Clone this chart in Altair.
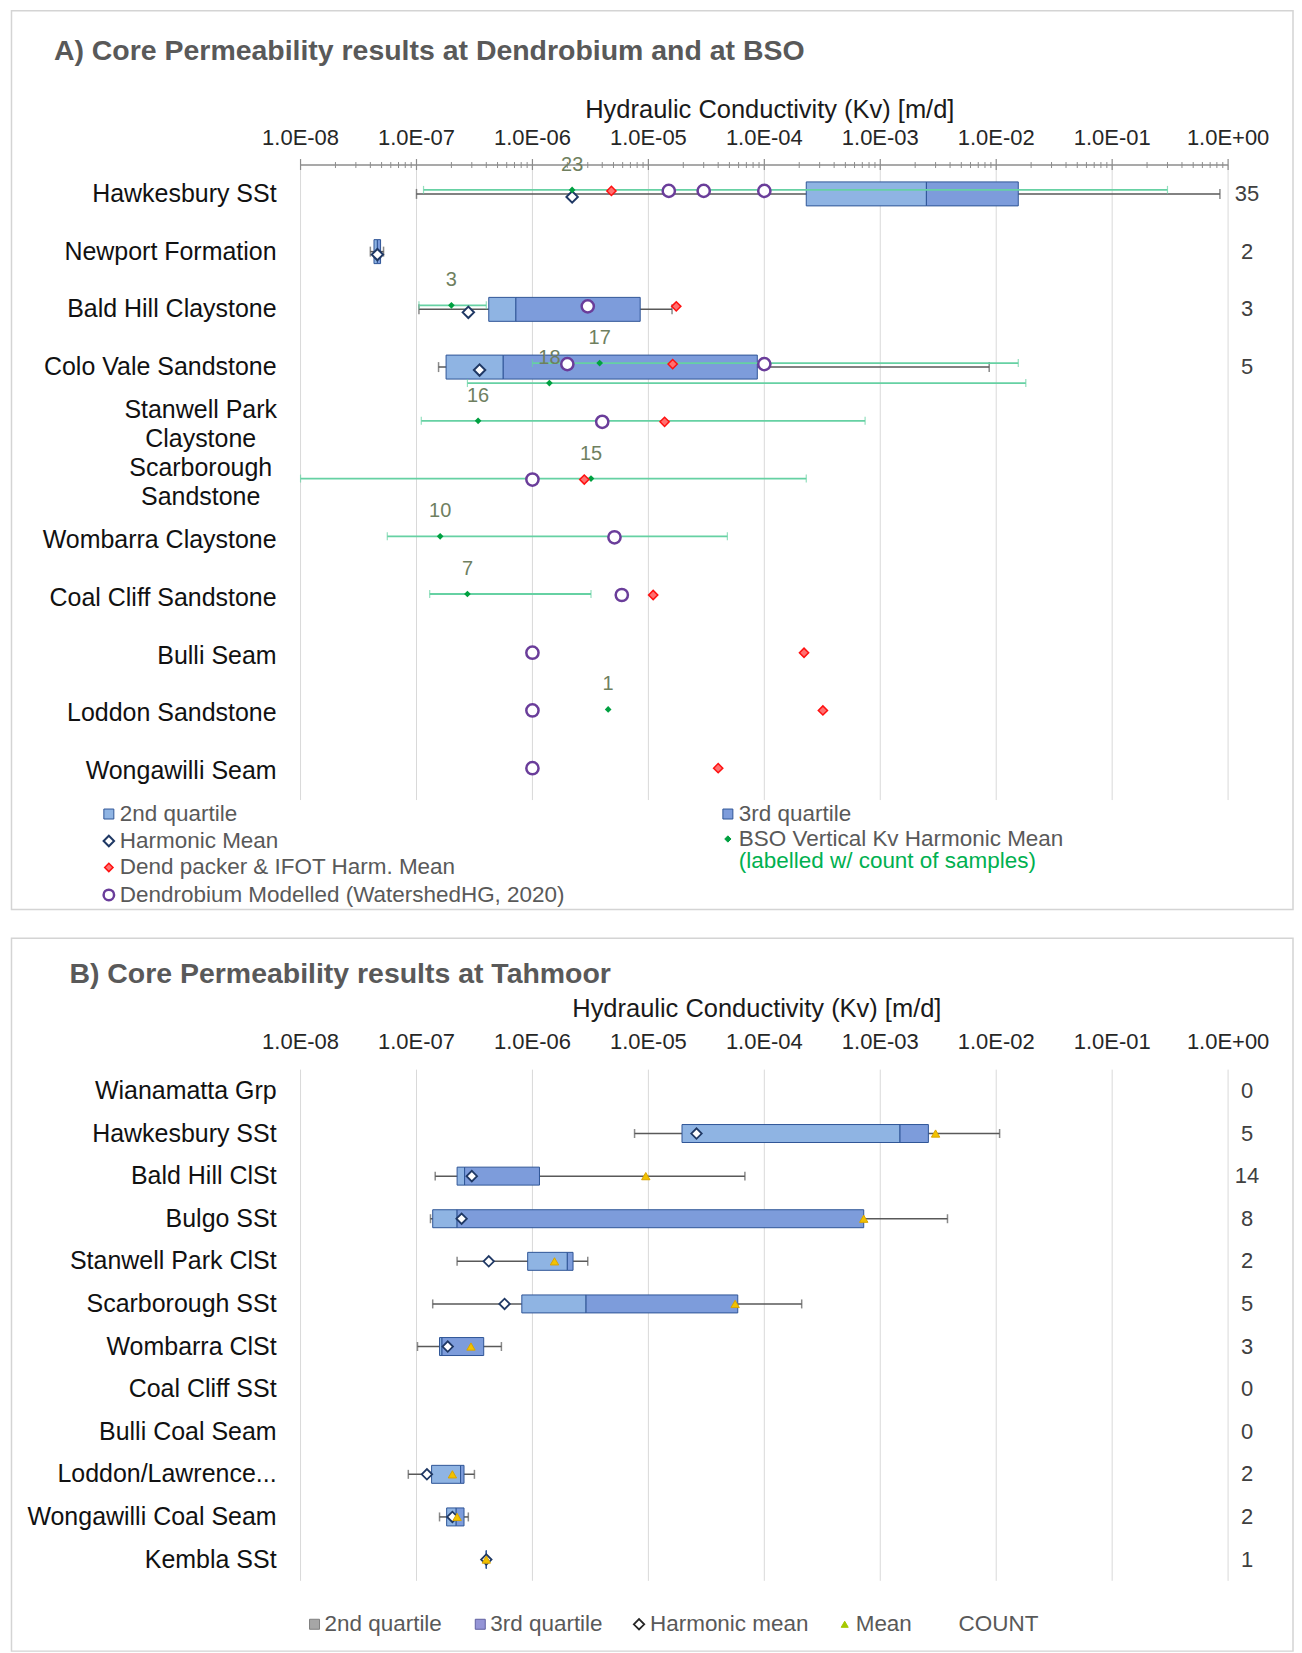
import altair as alt
import pandas as pd

FONT = "Liberation Sans"

# ---------------- shared axis values ----------------
decades = [1e-8, 1e-7, 1e-6, 1e-5, 1e-4, 1e-3, 1e-2, 1e-1, 1.0]
minor_ticks = [m * d for d in decades[:-1] for m in range(2, 10)]
axis_title = "Hydraulic Conductivity (Kv) [m/d]"

# ---------------- Panel A data ----------------
title_a = "A) Core Permeability results at Dendrobium and at BSO"
rows_a = ["Hawkesbury SSt", "Newport Formation", "Bald Hill Claystone",
          "Colo Vale Sandstone", "Stanwell Park|Claystone", "Scarborough|Sandstone",
          "Wombarra Claystone", "Coal Cliff Sandstone", "Bulli Seam",
          "Loddon Sandstone", "Wongawilli Seam"]

box_a_rows = ["Hawkesbury SSt", "Newport Formation", "Bald Hill Claystone", "Colo Vale Sandstone"]
box_a_min = [1.0e-7, 4.0e-8, 1.05e-7, 1.55e-7]
box_a_q1 = [2.3e-4, 4.3e-8, 4.2e-7, 1.8e-7]
box_a_med = [2.5e-3, 4.6e-8, 7.2e-7, 5.6e-7]
box_a_q3 = [1.55e-2, 4.9e-8, 8.5e-6, 8.7e-5]
box_a_max = [0.85, 5.2e-8, 1.6e-5, 8.7e-3]
harm_a = [2.2e-6, 4.6e-8, 2.8e-7, 3.5e-7]
count_a = [35, 2, 3, 5]

bso_rows = ["Hawkesbury SSt", "Bald Hill Claystone", "Colo Vale Sandstone",
            "Stanwell Park|Claystone", "Scarborough|Sandstone", "Wombarra Claystone",
            "Coal Cliff Sandstone", "Loddon Sandstone"]
bso_hm = [2.2e-6, 2.0e-7, 3.8e-6, 3.4e-7, 3.2e-6, 1.6e-7, 2.75e-7, 4.5e-6]
bso_lo = [1.15e-7, 1.05e-7, 1.0e-6, 1.1e-7, 1.0e-8, 5.6e-8, 1.3e-7, 4.5e-6]
bso_hi = [0.30, 4.0e-7, 1.55e-2, 7.4e-4, 2.3e-4, 4.8e-5, 3.2e-6, 4.5e-6]
bso_n = [23, 3, 17, 16, 15, 10, 7, 1]

bso2_rows = ["Colo Vale Sandstone"]
bso2_hm = [1.4e-6]
bso2_lo = [2.75e-7]
bso2_hi = [1.8e-2]
bso2_n = [18]

dend_rows = ["Hawkesbury SSt", "Bald Hill Claystone", "Colo Vale Sandstone",
             "Stanwell Park|Claystone", "Scarborough|Sandstone", "Wombarra Claystone",
             "Coal Cliff Sandstone", "Bulli Seam", "Loddon Sandstone", "Wongawilli Seam"]
dend_hm = [4.8e-6, 1.74e-5, 1.62e-5, 1.38e-5, 2.8e-6, 5.2e-6, 1.1e-5, 2.2e-4, 3.2e-4, 4.0e-5]

mod_rows = ["Hawkesbury SSt", "Hawkesbury SSt", "Hawkesbury SSt", "Bald Hill Claystone",
            "Colo Vale Sandstone", "Colo Vale Sandstone", "Stanwell Park|Claystone",
            "Scarborough|Sandstone", "Wombarra Claystone", "Coal Cliff Sandstone",
            "Bulli Seam", "Loddon Sandstone", "Wongawilli Seam"]
mod_kv = [1.5e-5, 3.0e-5, 1.0e-4, 3.0e-6, 1.0e-4, 2.0e-6, 4.0e-6, 1.0e-6, 5.1e-6,
          5.9e-6, 1.0e-6, 1.0e-6, 1.0e-6]

legend_a_col1 = ["2nd quartile", "Harmonic Mean", "Dend packer & IFOT Harm. Mean",
                 "Dendrobium Modelled (WatershedHG, 2020)"]
legend_a_col2 = ["3rd quartile", "BSO Vertical Kv Harmonic Mean"]
legend_a_note = "(labelled w/ count of samples)"

# ---------------- Panel B data ----------------
title_b = "B) Core Permeability results at Tahmoor"
rows_b = ["Wianamatta Grp", "Hawkesbury SSt", "Bald Hill ClSt", "Bulgo SSt",
          "Stanwell Park ClSt", "Scarborough SSt", "Wombarra ClSt", "Coal Cliff SSt",
          "Bulli Coal Seam", "Loddon/Lawrence...", "Wongawilli Coal Seam", "Kembla SSt"]
count_b = [0, 5, 14, 8, 2, 5, 3, 0, 0, 2, 2, 1]

box_b_rows = ["Hawkesbury SSt", "Bald Hill ClSt", "Bulgo SSt", "Stanwell Park ClSt",
              "Scarborough SSt", "Wombarra ClSt", "Loddon/Lawrence...",
              "Wongawilli Coal Seam", "Kembla SSt"]
box_b_min = [7.6e-6, 1.45e-7, 1.32e-7, 2.24e-7, 1.38e-7, 1.02e-7, 8.5e-8, 1.58e-7, 4.0e-7]
box_b_q1 = [1.95e-5, 2.24e-7, 1.38e-7, 9.1e-7, 8.1e-7, 1.58e-7, 1.35e-7, 1.82e-7, 4.0e-7]
box_b_med = [1.48e-3, 2.6e-7, 2.24e-7, 2.0e-6, 2.9e-6, 1.66e-7, 2.4e-7, 2.2e-7, 4.0e-7]
box_b_q3 = [2.6e-3, 1.15e-6, 7.2e-4, 2.24e-6, 5.9e-5, 3.8e-7, 2.57e-7, 2.57e-7, 4.0e-7]
box_b_max = [1.07e-2, 6.8e-5, 3.8e-3, 3.0e-6, 2.1e-4, 5.4e-7, 3.16e-7, 2.8e-7, 4.0e-7]
harm_b = [2.6e-5, 3.0e-7, 2.45e-7, 4.2e-7, 5.75e-7, 1.86e-7, 1.23e-7, 2.04e-7, 4.0e-7]
mean_b = [3.0e-3, 9.5e-6, 7.2e-4, 1.55e-6, 5.6e-5, 2.95e-7, 2.04e-7, 2.24e-7, 4.0e-7]

legend_b = ["2nd quartile", "3rd quartile", "Harmonic mean", "Mean", "COUNT"]

# ---------------- styles ----------------
W = 929
HA = 636
HB = 512
C_Q2 = "#8fb4e3"
C_Q3 = "#7d9cdb"
C_BOX = "#2f5597"
C_WH = "#595959"
C_GRID = "#d9d9d9"
C_AX = "#8c8c8c"
C_BSO_LINE = "#66d1a3"
C_BSO = "#00a040"
C_TXT = "#595959"
LEG = 22.5

xs = alt.Scale(type="log", domain=[1e-8, 1.0], nice=False)
ONE = pd.DataFrame({"a": [0]})
dec_df = pd.DataFrame({"v": decades, "lab": [f"{v:.1E}" for v in decades]})
minor_df = pd.DataFrame({"v": minor_ticks})


def X(f):
    return alt.X(f"{f}:Q", scale=xs, axis=None)


def txt(x, y, text, size, color, weight="normal", align="left"):
    return alt.Chart(pd.DataFrame({"t": [text]})).mark_text(
        align=align, baseline="middle", fontSize=size, color=color, font=FONT,
        fontWeight=weight).encode(x=alt.value(x), y=alt.value(y), text="t:N")


def sym(x, y, shape, size, fill, stroke, sw):
    return alt.Chart(ONE).mark_point(
        shape=shape, size=size, filled=True, fill=fill, stroke=stroke,
        strokeWidth=sw, opacity=1).encode(x=alt.value(x), y=alt.value(y))


def frame(x1, x2, y1, y2):
    return alt.Chart(ONE).mark_rect(fillOpacity=0, stroke="#d4d4d4", strokeWidth=1.5).encode(
        x=alt.value(x1), x2=alt.value(x2), y=alt.value(y1), y2=alt.value(y2))


def grid(h):
    return alt.Chart(dec_df).mark_rule(color=C_GRID, strokeWidth=1).encode(
        x=X("v"), y=alt.value(0), y2=alt.value(h))


def tick_labels(y):
    return alt.Chart(dec_df).mark_text(fontSize=22, color="#262626", font=FONT,
                                       baseline="middle", align="center").encode(
        x=X("v"), y=alt.value(y), text="lab:N")


def row_labels(rows, Y):
    df = pd.DataFrame({"row": rows})
    single = df[~df["row"].str.contains("|", regex=False)]
    multi = df[df["row"].str.contains("|", regex=False)]
    out = [alt.Chart(single).mark_text(
        fontSize=25, color="#111111", font=FONT, align="right", baseline="middle").encode(
        x=alt.value(-24), y=Y(), text="row:N")]
    if len(multi):
        out.append(alt.Chart(multi).mark_text(
            fontSize=25, color="#111111", font=FONT, align="center", baseline="middle",
            lineBreak="|", lineHeight=29, yOffset=-15).encode(
            x=alt.value(-100), y=Y(), text="row:N"))
    return out


def box_layers(df, Y, bar_size, cap):
    whisk = alt.Chart(df).mark_rule(color=C_WH, strokeWidth=1.5).encode(
        x=X("min"), x2="max", y=Y())
    cap1 = alt.Chart(df).mark_tick(color=C_WH, size=cap, thickness=1.5).encode(x=X("min"), y=Y())
    cap2 = alt.Chart(df).mark_tick(color=C_WH, size=cap, thickness=1.5).encode(x=X("max"), y=Y())
    b2 = alt.Chart(df).mark_bar(size=bar_size, color=C_Q2, stroke=C_BOX, strokeWidth=1).encode(
        x=X("q1"), x2="med", y=Y())
    b3 = alt.Chart(df).mark_bar(size=bar_size, color=C_Q3, stroke=C_BOX, strokeWidth=1).encode(
        x=X("med"), x2="q3", y=Y())
    return [whisk, cap1, cap2, b2, b3]


# ================= Panel A =================
ys_a = alt.Scale(domain=rows_a, paddingInner=0, paddingOuter=0)


def YA():
    return alt.Y("row:N", scale=ys_a, axis=None)


box_a = pd.DataFrame({"row": box_a_rows, "min": box_a_min, "q1": box_a_q1, "med": box_a_med,
                      "q3": box_a_q3, "max": box_a_max, "harm": harm_a, "n": count_a})
bso = pd.DataFrame({"row": bso_rows, "hm": bso_hm, "lo": bso_lo, "hi": bso_hi, "n": bso_n})
bso2 = pd.DataFrame({"row": bso2_rows, "hm": bso2_hm, "lo": bso2_lo, "hi": bso2_hi, "n": bso2_n})
dend = pd.DataFrame({"row": dend_rows, "kv": dend_hm})
mod = pd.DataFrame({"row": mod_rows, "kv": mod_kv})

axis_line_a = alt.Chart(ONE).mark_rule(color=C_AX, strokeWidth=1.5).encode(
    x=alt.value(0), x2=alt.value(W), y=alt.value(0))
major_ticks_a = alt.Chart(dec_df).mark_rule(color=C_AX, strokeWidth=1.2).encode(
    x=X("v"), y=alt.value(-6), y2=alt.value(5))
minor_ticks_a = alt.Chart(minor_df).mark_rule(color=C_AX, strokeWidth=1).encode(
    x=X("v"), y=alt.value(-3), y2=alt.value(3))


def bso_layers(df, off):
    rng = df[df["lo"] < df["hi"]]
    line = alt.Chart(rng).mark_rule(color=C_BSO_LINE, strokeWidth=1.8, yOffset=off).encode(
        x=X("lo"), x2="hi", y=YA())
    c1 = alt.Chart(rng).mark_tick(color=C_BSO_LINE, size=8, thickness=1.2, yOffset=off).encode(
        x=X("lo"), y=YA())
    c2 = alt.Chart(rng).mark_tick(color=C_BSO_LINE, size=8, thickness=1.2, yOffset=off).encode(
        x=X("hi"), y=YA())
    dot = alt.Chart(df).mark_point(shape="diamond", filled=True, color=C_BSO, size=45, opacity=1,
                                   yOffset=off).encode(x=X("hm"), y=YA())
    lab = alt.Chart(df).mark_text(fontSize=20, color="#6f7f5f", font=FONT, baseline="middle",
                                  yOffset=off - 25).encode(x=X("hm"), y=YA(), text="n:N")
    return [line, c1, c2], [dot, lab]


bso_lines1, bso_pts1 = bso_layers(bso, -4)
bso_lines2, bso_pts2 = bso_layers(bso2, 16)

harm_a_l = alt.Chart(box_a).mark_point(shape="diamond", filled=True, fill="white", stroke="#1f3864",
                                       strokeWidth=2, size=130, opacity=1, yOffset=3).encode(
    x=X("harm"), y=YA())
dend_l = alt.Chart(dend).mark_point(shape="diamond", filled=True, fill="#ff7070", stroke="#ff1010",
                                    strokeWidth=1.5, size=85, opacity=1, yOffset=-3).encode(
    x=X("kv"), y=YA())
mod_l = alt.Chart(mod).mark_point(shape="circle", filled=True, fill="white", stroke="#6a3d9a",
                                  strokeWidth=2.5, size=150, opacity=1, yOffset=-3).encode(
    x=X("kv"), y=YA())
count_a_l = alt.Chart(box_a).mark_text(fontSize=22, color="#404040", font=FONT, baseline="middle").encode(
    x=alt.value(948), y=YA(), text="n:N")

legend_a = [
    sym(-192, 650, "square", 100, C_Q2, C_BOX, 1), txt(-181, 650, legend_a_col1[0], LEG, C_TXT),
    sym(-192, 677, "diamond", 110, "white", "#1f3864", 2), txt(-181, 677, legend_a_col1[1], LEG, C_TXT),
    sym(-192, 703.5, "diamond", 70, "#ff7070", "#ff1010", 1.5), txt(-181, 703.5, legend_a_col1[2], LEG, C_TXT),
    sym(-192, 731, "circle", 110, "white", "#6a3d9a", 2.5), txt(-181, 731, legend_a_col1[3], LEG, C_TXT),
    sym(428, 650, "square", 100, C_Q3, C_BOX, 1), txt(439, 650, legend_a_col2[0], LEG, C_TXT),
    sym(428, 675, "diamond", 40, C_BSO, C_BSO, 1), txt(439, 675, legend_a_col2[1], LEG, C_TXT),
    txt(439, 697, legend_a_note, LEG, "#00b050"),
]

chart_a = alt.layer(
    frame(-289.5, 994, -154.6, 745.6),
    grid(HA),
    axis_line_a, major_ticks_a, minor_ticks_a,
    tick_labels(-27),
    *row_labels(rows_a, YA),
    *box_layers(box_a, YA, 24, 10),
    *bso_lines1, *bso_lines2,
    harm_a_l,
    *bso_pts1, *bso_pts2,
    dend_l, mod_l, count_a_l,
    txt(-247, -114.5, title_a, 28.5, C_TXT, weight="bold"),
    txt(470, -55.5, axis_title, 25.5, "#1a1a1a", align="center"),
    *legend_a,
).properties(width=W, height=HA)

# ================= Panel B =================
ys_b = alt.Scale(domain=rows_b, paddingInner=0, paddingOuter=0)


def YB():
    return alt.Y("row:N", scale=ys_b, axis=None)


box_b = pd.DataFrame({"row": box_b_rows, "min": box_b_min, "q1": box_b_q1, "med": box_b_med,
                      "q3": box_b_q3, "max": box_b_max, "harm": harm_b, "mean": mean_b})
cnt_b = pd.DataFrame({"row": rows_b, "n": count_b})

harm_b_l = alt.Chart(box_b).mark_point(shape="diamond", filled=True, fill="white", stroke="#1f3864",
                                       strokeWidth=1.8, size=110, opacity=1).encode(
    x=X("harm"), y=YB())
mean_b_l = alt.Chart(box_b).mark_point(shape="triangle-up", filled=True, fill="#f2c200",
                                       stroke="#d9a400", strokeWidth=1, size=70, opacity=1).encode(
    x=X("mean"), y=YB())
count_b_l = alt.Chart(cnt_b).mark_text(fontSize=22, color="#404040", font=FONT, baseline="middle").encode(
    x=alt.value(948), y=YB(), text="n:N")

legend_bl = [
    sym(14, 555.5, "square", 100, "#a6a6a6", "#7f7f7f", 1), txt(24, 555.5, legend_b[0], LEG, C_TXT),
    sym(180, 555.5, "square", 100, "#9494d6", "#5f5fa0", 1), txt(190, 555.5, legend_b[1], LEG, C_TXT),
    sym(339, 555.5, "diamond", 110, "white", "#262626", 1.8), txt(350, 555.5, legend_b[2], LEG, C_TXT),
    sym(545, 555.5, "triangle-up", 50, "#a6c800", "#a6c800", 1), txt(556, 555.5, legend_b[3], LEG, C_TXT),
    txt(659, 555.5, legend_b[4], LEG, C_TXT),
]

chart_b = alt.layer(
    frame(-289.5, 994, -131.6, 582.4),
    grid(HB),
    tick_labels(-28),
    *row_labels(rows_b, YB),
    *box_layers(box_b, YB, 18, 9),
    harm_b_l, mean_b_l, count_b_l,
    txt(-231.5, -95.6, title_b, 28.5, C_TXT, weight="bold"),
    txt(457, -61, axis_title, 25.5, "#1a1a1a", align="center"),
    *legend_bl,
).properties(width=W, height=HB)

chart = alt.vconcat(chart_a, chart_b, spacing=26).resolve_scale(
    x="independent", y="independent").properties(
    padding={"left": 2, "top": 0, "right": 0, "bottom": 0},
    background="white").configure(font=FONT).configure_view(strokeWidth=0)

chart.save("out.html", embed_options={"renderer": "svg", "actions": False})
